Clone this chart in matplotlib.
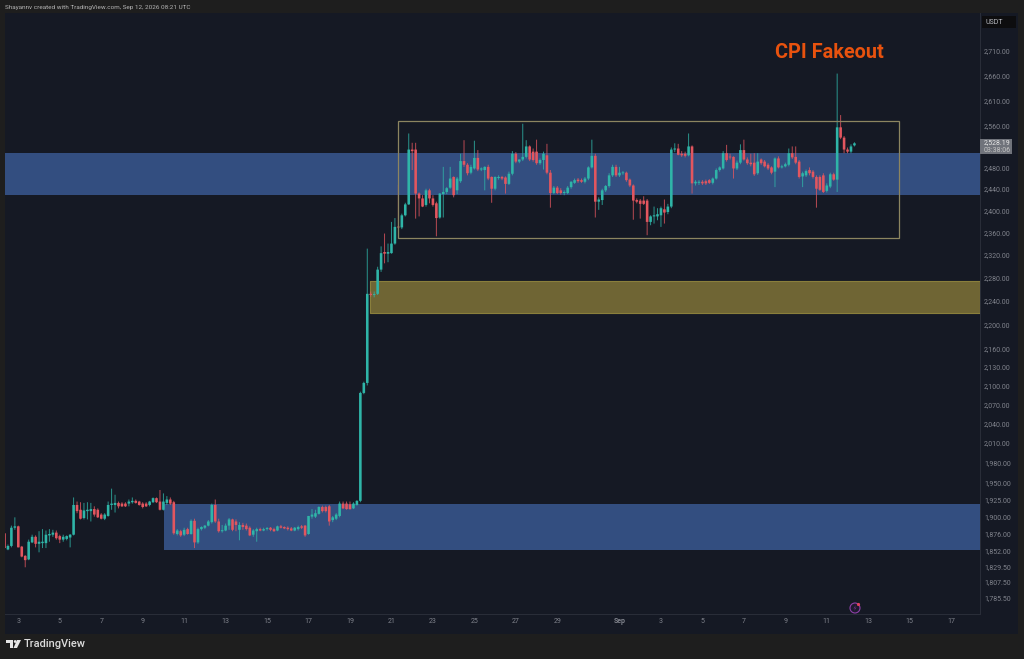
"""ETH/USDT 4h candles with marked zones, TradingView dark look."""
import numpy as np
import matplotlib
matplotlib.use("Agg")
import matplotlib.pyplot as plt
from matplotlib.patches import Circle, Polygon, Rectangle
from matplotlib.ticker import NullLocator
from matplotlib.transforms import IdentityTransform

W, H = 1024, 659

opens = [
    1876, 1853, 1858, 1884, 1886, 1857, 1844, 1839, 1863, 1871,
    1861, 1862, 1862, 1873, 1874, 1877, 1872, 1867, 1868, 1870,
    1874, 1917, 1910, 1898, 1908, 1908, 1911, 1910, 1903, 1897,
    1901, 1917, 1917, 1920, 1919, 1919, 1919, 1921, 1923, 1922,
    1919, 1919, 1917, 1921, 1927, 1922, 1910, 1920, 1925, 1921,
    1875, 1879, 1874, 1882, 1875, 1894, 1863, 1882, 1884, 1887,
    1892, 1917, 1893, 1879, 1880, 1887, 1896, 1893, 1881, 1888,
    1887, 1884, 1874, 1879, 1882, 1880, 1882, 1884, 1882, 1880,
    1886, 1885, 1884, 1883, 1880, 1882, 1886, 1887, 1875, 1900,
    1900, 1904, 1914, 1914, 1915, 1895, 1897, 1901, 1919, 1919,
    1918, 1912, 1917, 1923, 2088,
    2104, 2252, 2250, 2252, 2294, 2325, 2322, 2323, 2340, 2370,
    2369, 2391, 2411, 2514, 2514, 2431, 2422, 2410, 2437, 2422,
    2413, 2387, 2430, 2434, 2442, 2462, 2437, 2454, 2492, 2485,
    2470, 2478, 2498, 2476, 2475, 2481, 2462, 2440, 2460, 2462,
    2461, 2449, 2468, 2506, 2491, 2495, 2500, 2520, 2510, 2510,
    2488, 2494, 2503, 2470, 2432, 2442, 2437, 2432, 2432, 2443,
    2451, 2457, 2456, 2453, 2459, 2480, 2502, 2416, 2419, 2437,
    2445, 2465,
    2481, 2465, 2469, 2470, 2457, 2446, 2419, 2418, 2418, 2418,
    2379, 2389, 2389, 2391, 2402, 2397, 2407, 2514, 2516, 2506,
    2506, 2503, 2520, 2450, 2451, 2453, 2454, 2456, 2451, 2459,
    2475, 2478, 2507, 2500, 2500, 2478, 2489, 2513, 2495, 2489,
    2489, 2469, 2495, 2491, 2485, 2480, 2472, 2497, 2480, 2482,
    2485, 2507, 2500, 2491, 2463, 2465, 2475, 2472, 2462, 2462,
    2465, 2436, 2444, 2467, 2457, 2557, 2537, 2514, 2510, 2522,
]
highs = [
    1879, 1860, 1887, 1899, 1887, 1858, 1845, 1867, 1874, 1873,
    1879, 1882, 1880, 1882, 1881, 1880, 1874, 1874, 1873, 1875,
    1928, 1922, 1921, 1920, 1921, 1920, 1915, 1912, 1905, 1905,
    1922, 1941, 1932, 1922, 1921, 1921, 1925, 1928, 1925, 1923,
    1921, 1921, 1923, 1928, 1928, 1939, 1934, 1930, 1928, 1923,
    1882, 1881, 1884, 1884, 1896, 1897, 1884, 1886, 1888, 1895,
    1919, 1925, 1897, 1888, 1890, 1898, 1897, 1896, 1892, 1891,
    1890, 1886, 1882, 1884, 1884, 1884, 1885, 1885, 1884, 1887,
    1888, 1886, 1886, 1885, 1885, 1887, 1888, 1888, 1901, 1911,
    1910, 1915, 1916, 1916, 1917, 1901, 1905, 1922, 1922, 1922,
    1922, 1921, 1924, 2090, 2106,
    2331, 2256, 2256, 2299, 2335, 2358, 2340, 2379, 2386, 2447,
    2394, 2414, 2545, 2527, 2527, 2433, 2428, 2440, 2440, 2428,
    2416, 2432, 2481, 2443, 2481, 2463, 2462, 2506, 2532, 2488,
    2485, 2531, 2513, 2480, 2482, 2485, 2463, 2463, 2465, 2464,
    2463, 2472, 2511, 2509, 2495, 2564, 2532, 2522, 2516, 2533,
    2497, 2510, 2525, 2475, 2445, 2445, 2441, 2437, 2445, 2454,
    2459, 2460, 2459, 2462, 2482, 2533, 2506, 2424, 2440, 2447,
    2469, 2485,
    2485, 2481, 2473, 2472, 2459, 2448, 2422, 2421, 2426, 2421,
    2391, 2407, 2404, 2407, 2420, 2412, 2518, 2526, 2525, 2511,
    2510, 2545, 2522, 2456, 2456, 2456, 2457, 2458, 2461, 2478,
    2482, 2511, 2523, 2506, 2501, 2493, 2524, 2533, 2499, 2506,
    2507, 2507, 2497, 2494, 2488, 2482, 2499, 2501, 2485, 2489,
    2516, 2520, 2520, 2494, 2472, 2476, 2480, 2475, 2465, 2465,
    2469, 2450, 2470, 2470, 2664, 2581, 2540, 2518, 2524, 2528,
]
lows = [
    1852, 1852, 1856, 1881, 1856, 1842, 1828, 1838, 1862, 1856,
    1849, 1855, 1855, 1864, 1871, 1867, 1862, 1864, 1866, 1856,
    1873, 1905, 1896, 1896, 1896, 1893, 1900, 1898, 1896, 1895,
    1900, 1910, 1906, 1912, 1914, 1914, 1915, 1919, 1919, 1916,
    1912, 1914, 1915, 1920, 1920, 1909, 1909, 1917, 1917, 1874,
    1873, 1871, 1872, 1874, 1874, 1855, 1861, 1880, 1882, 1886,
    1890, 1891, 1877, 1877, 1879, 1881, 1879, 1879, 1866, 1881,
    1880, 1872, 1871, 1864, 1879, 1879, 1880, 1879, 1878, 1879,
    1883, 1882, 1880, 1879, 1879, 1880, 1882, 1871, 1874, 1897,
    1898, 1903, 1906, 1906, 1887, 1892, 1895, 1899, 1911, 1910,
    1910, 1911, 1916, 1921, 2086,
    2100, 2247, 2246, 2250, 2290, 2305, 2307, 2322, 2338, 2367,
    2366, 2389, 2410, 2475, 2385, 2389, 2406, 2407, 2413, 2407,
    2353, 2385, 2387, 2430, 2440, 2424, 2430, 2451, 2481, 2465,
    2467, 2476, 2473, 2473, 2437, 2456, 2414, 2437, 2457, 2456,
    2431, 2447, 2465, 2488, 2488, 2492, 2497, 2492, 2491, 2485,
    2485, 2476, 2467, 2405, 2430, 2430, 2429, 2428, 2430, 2440,
    2449, 2451, 2451, 2450, 2456, 2478, 2387, 2401, 2410, 2434,
    2442, 2462,
    2462, 2462, 2466, 2453, 2443, 2383, 2413, 2385, 2410, 2355,
    2373, 2376, 2382, 2370, 2376, 2393, 2404, 2509, 2503, 2500,
    2499, 2501, 2431, 2446, 2447, 2447, 2447, 2449, 2448, 2457,
    2472, 2476, 2491, 2495, 2459, 2475, 2486, 2493, 2485, 2482,
    2464, 2466, 2485, 2480, 2475, 2467, 2443, 2478, 2478, 2480,
    2482, 2496, 2486, 2459, 2443, 2462, 2465, 2459, 2405, 2436,
    2432, 2433, 2441, 2455, 2434, 2534, 2507, 2507, 2507, 2520,
]
closes = [
    1855, 1858, 1884, 1886, 1856, 1843, 1838, 1864, 1871, 1861,
    1864, 1864, 1874, 1875, 1877, 1869, 1867, 1871, 1872, 1874,
    1917, 1908, 1897, 1909, 1910, 1911, 1903, 1899, 1897, 1903,
    1917, 1919, 1920, 1915, 1915, 1915, 1922, 1923, 1920, 1917,
    1914, 1915, 1922, 1927, 1921, 1910, 1922, 1925, 1919, 1876,
    1880, 1873, 1881, 1875, 1894, 1863, 1882, 1885, 1887, 1893,
    1917, 1893, 1879, 1880, 1887, 1896, 1881, 1888, 1888, 1885,
    1882, 1873, 1880, 1882, 1880, 1882, 1883, 1881, 1879, 1886,
    1884, 1883, 1882, 1880, 1884, 1885, 1884, 1873, 1901, 1903,
    1905, 1914, 1908, 1908, 1893, 1899, 1903, 1919, 1912, 1911,
    1911, 1919, 1923, 2088, 2104,
    2252, 2250, 2251, 2294, 2323, 2322, 2325, 2340, 2370, 2369,
    2391, 2411, 2514, 2511, 2431, 2422, 2407, 2437, 2422, 2410,
    2386, 2431, 2434, 2441, 2459, 2428, 2459, 2492, 2485, 2469,
    2481, 2498, 2476, 2478, 2481, 2459, 2440, 2462, 2462, 2459,
    2449, 2468, 2506, 2491, 2495, 2500, 2520, 2495, 2494, 2488,
    2494, 2506, 2470, 2432, 2442, 2432, 2432, 2434, 2442, 2453,
    2456, 2454, 2453, 2459, 2480, 2502, 2416, 2420, 2437, 2445,
    2465, 2481,
    2465, 2470, 2470, 2456, 2446, 2418, 2416, 2412, 2412, 2379,
    2389, 2391, 2393, 2404, 2396, 2407, 2514, 2516, 2504, 2503,
    2502, 2520, 2450, 2453, 2453, 2450, 2450, 2451, 2459, 2475,
    2480, 2507, 2494, 2499, 2478, 2489, 2513, 2495, 2488, 2486,
    2467, 2491, 2488, 2482, 2478, 2470, 2497, 2480, 2482, 2486,
    2507, 2499, 2489, 2462, 2469, 2473, 2469, 2462, 2440, 2438,
    2434, 2446, 2467, 2457, 2557, 2537, 2514, 2510, 2520, 2526,
]

# days counted from Aug 1; Sep 1 is day 32
first_day = 3 - 4 / 6
candles_per_day = 6

day_ticks = [3, 5, 7, 9, 11, 13, 15, 17, 19, 21, 23, 25, 27, 29, 32, 34, 36, 38, 40, 42, 44, 46, 48]
day_labels = ["3", "5", "7", "9", "11", "13", "15", "17", "19", "21", "23", "25", "27", "29",
              "Sep", "3", "5", "7", "9", "11", "13", "15", "17"]
price_ticks = [2710, 2660, 2610, 2560, 2480, 2440, 2400, 2360, 2320, 2280, 2240, 2200, 2160, 2130,
               2100, 2070, 2040, 2010, 1980, 1950, 1925, 1900, 1876, 1852, 1829.5, 1807.5, 1785.5]

blue_top = (2428, 2507)
yellow_zone = (19.96, 2219, 2274)
blue_bottom = (10.03, 1852, 1919)
range_box = (21.32, 45.48, 2350, 2569)

BG = "#1e1e1e"
PANEL = "#151924"
GRID = "#2a2e39"
GREEN = "#2fb5a8"
RED = "#e2565f"
ZONE = "#334e80"
TICK = "#80838c"

o = np.array(opens, dtype=float)
h = np.array(highs, dtype=float)
l = np.array(lows, dtype=float)
c = np.array(closes, dtype=float)
x = first_day + np.arange(len(o)) / candles_per_day
colors = np.where(c >= o, GREEN, RED)


def fx(px):
    return px / W


def fy(py):
    return 1 - py / H


fig = plt.figure(figsize=(W / 100, H / 100), dpi=100, facecolor=BG)
plt.rcParams["font.family"] = ["Roboto", "DejaVu Sans"]

fig.patches.append(Rectangle((fx(5), fy(634)), fx(1013), 621 / H, transform=fig.transFigure,
                             facecolor=PANEL, edgecolor="none", zorder=-5))

ax = fig.add_axes([fx(5), fy(614), fx(975), 601 / H])
ax.set_facecolor(PANEL)
ax.set_yscale("log")
ax.set_xlim(2.358, 49.39)
ax.set_ylim(1764, 2790)

ax.axhspan(*blue_top, color=ZONE, lw=0, zorder=1)
ax.fill_between([blue_bottom[0], 49.39], blue_bottom[1], blue_bottom[2], color=ZONE, lw=0, zorder=1)
ax.fill_between([yellow_zone[0], 49.39], yellow_zone[1], yellow_zone[2], facecolor="#6f6534",
                edgecolor="#8a7f3c", lw=0.8, zorder=1)
ax.add_patch(Rectangle((range_box[0], range_box[2]), range_box[1] - range_box[0], range_box[3] - range_box[2],
                       fill=False, edgecolor="#8c8560", lw=0.9, zorder=4))

wicks = ax.vlines(x, l, h, colors=colors, lw=0.7, alpha=0.8, zorder=2)
wicks.set_snap(False)
bodies = ax.bar(x, np.maximum(np.abs(c - o), 1.5), width=0.125, bottom=np.minimum(o, c), color=colors, lw=0, zorder=3)
for body in bodies:
    body.set_snap(False)

ax.text(42.13, 2707, "CPI Fakeout", color="#e8520e", fontsize=14.3, fontweight="bold",
        ha="center", va="center", zorder=6)

ax.set_xticks(day_ticks, day_labels)
ax.set_yticks(price_ticks, [f"{v:,.2f}" for v in price_ticks])
ax.yaxis.set_minor_locator(NullLocator())
ax.yaxis.tick_right()
ax.tick_params(axis="both", length=0, labelsize=5, labelcolor=TICK)
ax.tick_params(axis="x", pad=6.6)
ax.tick_params(axis="y", pad=3)
for tick, label in zip(ax.get_xticklabels(), day_labels):
    tick.set_verticalalignment("baseline")
    if label == "Sep":
        tick.set_fontweight("bold")
for name in ["top", "left"]:
    ax.spines[name].set_visible(False)
for name in ["right", "bottom"]:
    ax.spines[name].set_color(GRID)
    ax.spines[name].set_linewidth(0.7)

# header and price-scale furniture
fig.text(fx(5), fy(7), "Shayannv created with TradingView.com, Sep 12, 2026 08:21 UTC",
         color="#b4b4b4", fontsize=4.6, va="center")
fig.patches.append(Rectangle((fx(982), fy(28)), 34 / W, 12 / H, transform=fig.transFigure,
                             facecolor="#0d0d0f", edgecolor="none"))
fig.text(fx(986), fy(22), "USDT", color="#b8bac0", fontsize=5, va="center")
fig.patches.append(Rectangle((fx(980), fy(154)), 32 / W, 15 / H, transform=fig.transFigure,
                             facecolor="#70737b", edgecolor="none"))
fig.text(fx(984), fy(143), "2,528.19", color="#e6e6e6", fontsize=5, va="center")
fig.text(fx(984), fy(150), "03:38:06", color="#c4c4c4", fontsize=5, va="center")

# lightning icon near the time axis, drawn in pixels so it stays round
pixels = IdentityTransform()
fig.patches.append(Circle((855, H - 608), 5, transform=pixels, facecolor="#1d1a2e", edgecolor="#8e3fa8", lw=0.8))
fig.patches.append(Polygon([(856, H - 605), (853.5, H - 608.5), (855.5, H - 608), (854, H - 611), (856.5, H - 607.5),
                            (854.5, H - 608)], closed=True, transform=pixels, facecolor="#8e3fa8", edgecolor="none"))
fig.patches.append(Circle((858.5, H - 604.5), 1.6, transform=pixels, facecolor="#e0405a", edgecolor="none"))

# TradingView logo
logo = [
    Polygon([(6, H - 640), (13, H - 640), (13, H - 648), (10, H - 648), (10, H - 643), (6, H - 643)], closed=True),
    Polygon([(17, H - 640), (21, H - 640), (17, H - 648), (13.5, H - 648)], closed=True),
    Circle((15.2, H - 641.5), 1.4),
]
for patch in logo:
    patch.set_transform(pixels)
    patch.set_facecolor("#e6e6e6")
    patch.set_edgecolor("none")
    fig.patches.append(patch)
fig.text(fx(24), fy(644), "TradingView", color="#dcdcdc", fontsize=7.9, fontweight="medium", va="center")

fig.savefig("out.png", dpi=100, facecolor=BG)
